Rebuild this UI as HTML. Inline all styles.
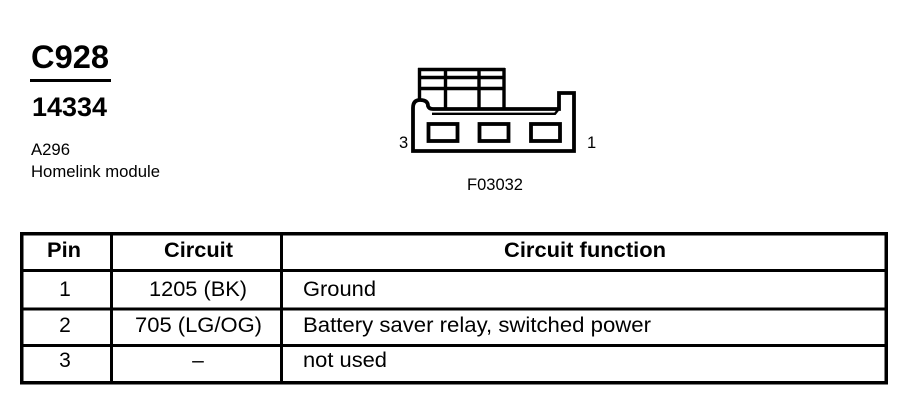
<!DOCTYPE html>
<html>
<head>
<meta charset="utf-8">
<style>
html,body{margin:0;padding:0;background:#fff;width:912px;height:416px;overflow:hidden}
svg{display:block}
text{font-family:"Liberation Sans",Arial,sans-serif;fill:#000}
.b{font-weight:bold}
</style>
</head>
<body>
<svg width="912" height="416" viewBox="0 0 912 416" xmlns="http://www.w3.org/2000/svg">
<rect width="912" height="416" fill="#fff"/>
<!-- Heading -->
<text class="b" x="31" y="68" font-size="32" textLength="78" lengthAdjust="spacingAndGlyphs">C928</text>
<rect x="30" y="79" width="81" height="3" fill="#000"/>
<text class="b" x="32" y="116" font-size="27" textLength="75" lengthAdjust="spacingAndGlyphs">14334</text>
<text x="31" y="155" font-size="16.5" textLength="39" lengthAdjust="spacingAndGlyphs">A296</text>
<text x="31" y="177" font-size="16.5" textLength="129" lengthAdjust="spacingAndGlyphs">Homelink module</text>
<!-- Connector -->
<g fill="none" stroke="#000" stroke-width="3.8">
<path d="M418 69.5H505M418 77.5H505M418 88.5H505M419.5 68V101M445.5 69V108M479 69V108M504 68V108" stroke-width="3.4"/>
<path d="M413 151V108Q413 100 420 100Q428 100 428 106Q429 109 433 109H559V93H574V151Z"/>
<path d="M432 113.8H555L558 110" stroke-width="2.4"/>
<rect x="428.5" y="124" width="29" height="17"/>
<rect x="479.5" y="124" width="29" height="17"/>
<rect x="531" y="124" width="29" height="17"/>
</g>
<text x="399" y="148" font-size="16.5">3</text>
<text x="587" y="148" font-size="16.5">1</text>
<text x="467" y="190" font-size="16.5" textLength="56" lengthAdjust="spacingAndGlyphs">F03032</text>
<!-- Table -->
<g fill="#000">
<rect x="20" y="232" width="868" height="3.5"/>
<rect x="20" y="381" width="868" height="3.5"/>
<rect x="20" y="232" width="3.5" height="152.5"/>
<rect x="884.5" y="232" width="3.5" height="152.5"/>
<rect x="110" y="232" width="3" height="152"/>
<rect x="280" y="232" width="3" height="152"/>
<rect x="20" y="269" width="868" height="3"/>
<rect x="20" y="307.5" width="868" height="3"/>
<rect x="20" y="344" width="868" height="3"/>
</g>
<g font-size="21">
<text class="b" x="47" y="257" textLength="34" lengthAdjust="spacingAndGlyphs">Pin</text>
<text class="b" x="164" y="257" textLength="69" lengthAdjust="spacingAndGlyphs">Circuit</text>
<text class="b" x="504" y="257" textLength="162" lengthAdjust="spacingAndGlyphs">Circuit function</text>
<text x="65" y="296" text-anchor="middle">1</text>
<text x="149" y="296" textLength="98" lengthAdjust="spacingAndGlyphs">1205 (BK)</text>
<text x="303" y="296" textLength="73" lengthAdjust="spacingAndGlyphs">Ground</text>
<text x="65" y="332" text-anchor="middle">2</text>
<text x="135" y="332" textLength="127" lengthAdjust="spacingAndGlyphs">705 (LG/OG)</text>
<text x="303" y="332" textLength="348" lengthAdjust="spacingAndGlyphs">Battery saver relay, switched power</text>
<text x="65" y="367" text-anchor="middle">3</text>
<text x="198" y="367" text-anchor="middle">–</text>
<text x="303" y="367" textLength="84" lengthAdjust="spacingAndGlyphs">not used</text>
</g>
</svg>
</body>
</html>
